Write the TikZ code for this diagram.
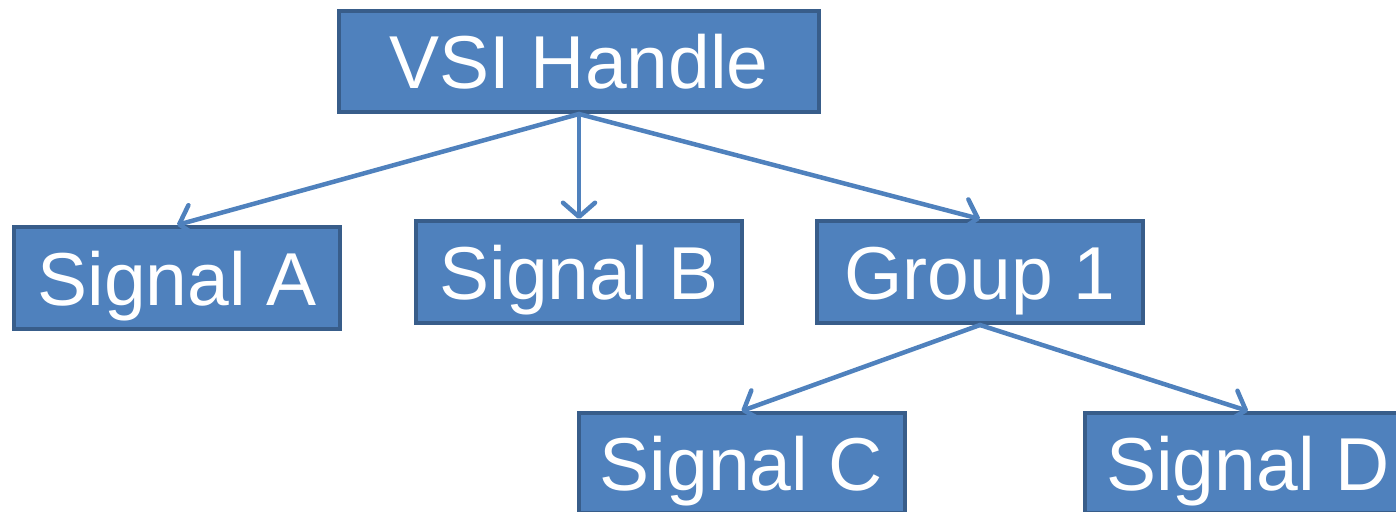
\documentclass[tikz,border=0pt]{standalone}
\usepackage{fontspec}
\setmainfont{Liberation Sans}
\usetikzlibrary{arrows.meta}
\definecolor{boxfill}{HTML}{4F81BD}
\definecolor{boxline}{HTML}{385D8A}
\begin{document}
\begin{tikzpicture}[x=1pt,y=-1pt,
  box/.style={draw=boxline, fill=boxfill, line width=4pt, minimum width=326pt, minimum height=102pt,
    inner sep=0pt, text=white, font=\fontsize{75}{80}\selectfont, text height=54pt, text depth=0pt},
  link/.style={draw=boxfill, line width=4.5pt, line cap=round,
    -{Straight Barb[length=14pt,width=32pt,line width=4.5pt,round]}}]
\useasboundingbox (0,0) rectangle (1396,511);
\begin{scope}
\clip (0,0) rectangle (1396,511);
\node[box, minimum width=480pt, minimum height=101pt] (vsi) at (579,61.5) {VSI Handle};
\node[box] (sa) at (177,278) {Signal A};
\node[box] (sb) at (579,272) {Signal B};
\node[box] (g1) at (980,272) {Group 1};
\node[box, minimum height=100pt] (sc) at (741.5,463) {Signal C};
\node[box, minimum height=100pt] (sd) at (1248,463) {Signal D};
\draw[link] (vsi.south) -- (sa.north);
\draw[link] (vsi.south) -- (sb.north);
\draw[link] (vsi.south) -- (g1.north);
\draw[link] (g1.south) -- (sc.north);
\draw[link] (g1.south) -- (sd.north);
\end{scope}
\end{tikzpicture}
\end{document}
